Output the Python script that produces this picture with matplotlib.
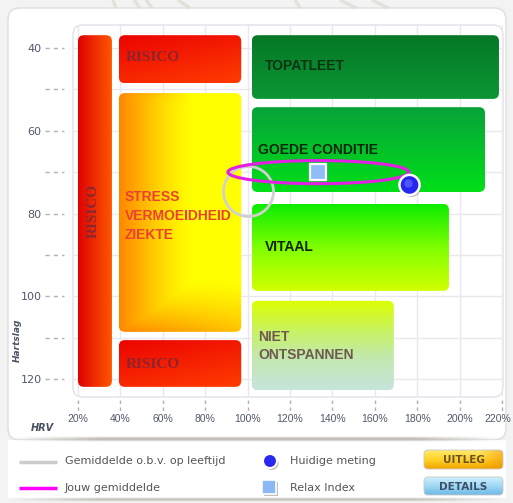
import numpy as np
import matplotlib
matplotlib.use("Agg")
import matplotlib.pyplot as plt
from matplotlib.patches import FancyBboxPatch, Ellipse, Rectangle
from matplotlib.colors import to_rgb
import matplotlib.transforms as mtransforms
import matplotlib.patheffects as pe

# ---------------- data ----------------
zone_labels = ["RISICO", "RISICO", "STRESS\nVERMOEIDHEID\nZIEKTE", "RISICO",
               "TOPATLEET", "GOEDE CONDITIE", "VITAAL", "NIET\nONTSPANNEN"]
zone_x0 = [20.0, 39.3, 39.3, 39.3, 102.0, 102.0, 102.0, 102.0]
zone_x1 = [36.0, 97.0, 97.0, 97.0, 218.6, 212.0, 195.0, 169.0]
zone_y0 = [36.9, 36.9, 50.9, 110.6, 36.9, 54.3, 77.7, 101.1]
zone_y1 = [121.9, 48.5, 108.6, 121.9, 52.3, 74.8, 98.7, 122.7]
label_x = [27.1, 42.6, 42.0, 42.6, 108.2, 105.0, 108.0, 105.0]
label_y = [79.4, 42.3, 80.6, 116.4, 44.4, 64.7, 88.1, 112.0]

age_avg_x, age_avg_y = 100.0, 74.6          # Gemiddelde o.b.v. op leeftijd
your_avg_x, your_avg_y = 133.4, 70.0        # Jouw gemiddelde (ellipse centre)
your_avg_w, your_avg_h = 85.4, 5.6          # spread of jouw gemiddelde
current_x, current_y = 176.4, 73.1          # Huidige meting
relax_x, relax_y = 133.4, 70.0              # Relax Index

x_ticks = [20, 40, 60, 80, 100, 120, 140, 160, 180, 200, 220]
x_ticklabels = [f"{v}%" for v in x_ticks]
y_ticks = [40, 50, 60, 70, 80, 90, 100, 110, 120]
y_ticklabels = ["40", "", "60", "", "80", "", "100", "", "120"]

legend_labels = ["Gemiddelde o.b.v. op leeftijd", "Jouw gemiddelde",
                 "Huidige meting", "Relax Index"]
button_labels = ["UITLEG", "DETAILS"]

# ---------------- helpers ----------------
def vgrad(stops, H=200, W=4):
    pos = [s[0] for s in stops]
    cols = np.array([to_rgb(s[1]) for s in stops])
    t = np.linspace(0, 1, H)
    arr = np.stack([np.interp(t, pos, cols[:, k]) for k in range(3)], axis=-1)
    return np.repeat(arr[:, None, :], W, axis=1)

def hgrad(stops, H=4, W=200):
    pos = [s[0] for s in stops]
    cols = np.array([to_rgb(s[1]) for s in stops])
    t = np.linspace(0, 1, W)
    arr = np.stack([np.interp(t, pos, cols[:, k]) for k in range(3)], axis=-1)
    return np.repeat(arr[None, :, :], H, axis=0)

def diag_grad(c0, c1, H=100, W=100):
    u = np.linspace(0, 1, W)[None, :]
    v = np.linspace(0, 1, H)[:, None]
    t = np.clip(0.35 * u + 0.65 * v, 0, 1)[..., None]
    return np.array(to_rgb(c0)) * (1 - t) + np.array(to_rgb(c1)) * t

def stress_grad(H=220, W=220):
    u = np.linspace(0, 1, W)[None, :]
    v = np.linspace(0, 1, H)[:, None]
    w_left = np.clip(1 - u / 0.6, 0, 1) ** 1.3
    w_bot = np.clip(1 - (1 - v) / 0.22, 0, 1) ** 1.3 * (1 - 0.5 * u)
    w_top = np.clip(1 - v / 0.14, 0, 1) * np.clip(1 - u / 0.6, 0, 1)
    w = np.maximum(np.maximum(w_left, w_bot), w_top)[..., None]
    yel = np.array(to_rgb("#ffff00"))
    ora = np.array(to_rgb("#ff8600"))
    return yel * (1 - w) + ora * w

# ---------------- figure ----------------
W_PX, H_PX = 513, 503
fig = plt.figure(figsize=(W_PX / 100, H_PX / 100), dpi=100, facecolor="#f3f3f3")

bg = fig.add_axes([0, 0, 1, 1], zorder=-10)
bg.set_xlim(0, W_PX)
bg.set_ylim(H_PX, 0)
bg.axis("off")

# faint decoration at the very top
for (xa, xb) in [(113, 116), (134, 140), (146, 152), (178, 190), (295, 300), (340, 356), (372, 388)]:
    bg.plot([xa, xb], [0, 8], color="#dcdcd0", lw=2.5, alpha=0.7, solid_capstyle="butt")

# main white card
bg.add_patch(FancyBboxPatch((8, 8), 498, 432, boxstyle="round,pad=0,rounding_size=12",
                            fc="white", ec="#dedede", lw=1))
# legend panel
bg.add_patch(Rectangle((8, 440), 498, 58, fc="white", ec="none"))
band_w = 498
prof = np.clip(np.sin(np.linspace(0, np.pi, band_w)) * 1.8, 0, 1)
for (yc, hh, a) in [(439.5, 6, 0.95), (499.5, 5, 0.8)]:
    rgba = np.zeros((8, band_w, 4))
    rgba[..., :3] = to_rgb("#bcb8ae")
    vprof = np.sin(np.linspace(0, np.pi, 8))[:, None]
    rgba[..., 3] = a * prof[None, :] * vprof
    bg.imshow(rgba, extent=(8, 506, yc + hh / 2, yc - hh / 2), aspect="auto",
              interpolation="bilinear", zorder=2)
bg.set_xlim(0, W_PX)
bg.set_ylim(H_PX, 0)

# ---------------- main axes ----------------
ax_l, ax_r, ax_t, ax_b = 73, 503, 25, 397
ax = fig.add_axes([ax_l / W_PX, (H_PX - ax_b) / H_PX, (ax_r - ax_l) / W_PX, (ax_b - ax_t) / H_PX], zorder=1)
ax.patch.set_visible(False)
for s in ax.spines.values():
    s.set_visible(False)
XL = (17.64, 220.5)
YL = (124.35, 34.44)

ax.add_patch(FancyBboxPatch((0, 0), 1, 1, transform=ax.transAxes,
                            boxstyle="round,pad=0,rounding_size=0.023",
                            mutation_aspect=(ax_r - ax_l) / (ax_b - ax_t),
                            fc="white", ec="#e0e0ea", lw=1, zorder=0, clip_on=False))

ax.set_xticks(x_ticks)
ax.set_xticklabels(x_ticklabels, family=["Liberation Sans", "DejaVu Sans"])
ax.set_yticks(y_ticks)
ax.set_yticklabels(y_ticklabels)
ax.grid(True, color="#e8e8ee", lw=1, zorder=0.5)
ax.set_axisbelow(True)
ax.tick_params(axis="y", length=0, pad=22.5, labelsize=8, labelcolor="#50586a")
ax.tick_params(axis="x", length=0, pad=12, labelsize=7.5, labelcolor="#50586a")
last = ax.get_xticklabels()[-1]
last.set_transform(last.get_transform() + mtransforms.ScaledTranslation(-3 / 72, 0, fig.dpi_scale_trans))

# dashed ticks
tr_y = mtransforms.blended_transform_factory(ax.transAxes, ax.transData)
tr_x = mtransforms.blended_transform_factory(ax.transData, ax.transAxes)
for v in y_ticks:
    ax.plot([-0.065, -0.022], [v, v], transform=tr_y, ls=(0, (3, 3)), color="#b0b0ba", lw=1, clip_on=False)
for v in x_ticks:
    ax.plot([v, v], [-0.009, -0.045], transform=tr_x, ls=(0, (2.5, 2.5)), color="#b0b0ba", lw=1, clip_on=False)

# zone gradients
zone_imgs = [
    hgrad([(0, "#de0200"), (1, "#ff5800")]),
    diag_grad("#ec0400", "#ff3c00"),
    stress_grad(),
    diag_grad("#ec0400", "#ff3c00"),
    vgrad([(0, "#067826"), (1, "#0c9634")]),
    vgrad([(0, "#07a23a"), (1, "#00e018")]),
    vgrad([(0, "#0cec00"), (0.5, "#80ff00"), (1, "#d2ff00")]),
    vgrad([(0, "#dcff00"), (0.35, "#c8f264"), (0.65, "#c2e8b0"), (1, "#c8e4dc")]),
]
aspect_px = ((ax_r - ax_l) / (XL[1] - XL[0])) / ((ax_b - ax_t) / (YL[0] - YL[1]))
rr = 6 / ((ax_r - ax_l) / (XL[1] - XL[0]))
for i in range(len(zone_labels)):
    x0, x1, y0, y1 = zone_x0[i], zone_x1[i], zone_y0[i], zone_y1[i]
    p = FancyBboxPatch((x0, y0), x1 - x0, y1 - y0,
                       boxstyle=f"round,pad=0,rounding_size={rr}",
                       mutation_aspect=aspect_px, fc="none", ec="none", zorder=2)
    ax.add_patch(p)
    im = ax.imshow(zone_imgs[i], extent=(x0, x1, y1, y0), origin="upper",
                   aspect="auto", interpolation="bilinear", zorder=2)
    im.set_clip_path(p)

sans = ["Liberation Sans", "DejaVu Sans"]
serif = ["Liberation Serif", "DejaVu Serif"]
ris_color = "#7c2638"
styles = [
    dict(family=serif, size=11, weight="bold", color=ris_color, rotation=90, ha="center", va="center"),
    dict(family=serif, size=11, weight="bold", color=ris_color, ha="left", va="center"),
    dict(family=sans, size=10, weight="bold", color="#ee4030", ha="left", va="center", linespacing=1.45),
    dict(family=serif, size=11, weight="bold", color=ris_color, ha="left", va="center"),
    dict(family=sans, size=10, weight="bold", color="#0a3412", ha="left", va="center"),
    dict(family=sans, size=10, weight="bold", color="#0a280a", ha="left", va="center"),
    dict(family=sans, size=10, weight="bold", color="#122408", ha="left", va="center"),
    dict(family=sans, size=10, weight="bold", color="#6e5a52", ha="left", va="center", linespacing=1.4),
]
for i in range(len(zone_labels)):
    t = ax.text(label_x[i], label_y[i], zone_labels[i], zorder=3, **styles[i])
    if styles[i]["color"] == ris_color:
        t.set_alpha(0.85)

# markers
ax.plot([age_avg_x], [age_avg_y], marker="o", ms=36, mfc="none", mec="#d0d0d0", mew=2, zorder=5)
ax.add_patch(Ellipse((your_avg_x, your_avg_y), your_avg_w, your_avg_h, fill=False,
                     ec="#e41ee4", lw=2.2, zorder=6))
shadow = [pe.SimplePatchShadow(offset=(1.2, -1.5), shadow_rgbFace="#777777", alpha=0.45), pe.Normal()]
ax.plot([relax_x], [relax_y], marker="s", ms=11.5, mfc="#90bdf8", mec="white", mew=1.6,
        zorder=7, path_effects=shadow)
ax.plot([current_x], [current_y], marker="o", ms=14.5, mfc="#2626ee", mec="white", mew=1.8,
        zorder=8, path_effects=shadow)
hl = ax.transData + mtransforms.ScaledTranslation(-1.2 / 72, 1.5 / 72, fig.dpi_scale_trans)
ax.plot([current_x], [current_y], marker="o", ms=6, mfc="#6a74ff", mec="none", alpha=0.6,
        zorder=9, transform=hl)

ax.set_xlim(*XL)
ax.set_ylim(*YL)

# axis titles
bg.text(17, 340, "Hartslag", rotation=90, style="italic", weight="bold", fontsize=6.5,
        color="#4a5262", ha="center", va="center", zorder=3)
bg.text(42, 428, "HRV", style="italic", weight="bold", fontsize=7,
        color="#4a5262", ha="center", va="center", zorder=3)

# ---------------- legend ----------------
bg.plot([19, 57], [462, 462], color="#cccccc", lw=2.5, solid_capstyle="butt", zorder=3)
bg.plot([19, 57], [488, 488], color="#ff00ff", lw=2.5, solid_capstyle="butt", zorder=3)
bg.text(65, 461, legend_labels[0], fontsize=8, color="#555555", va="center", zorder=3)
bg.text(65, 488, legend_labels[1], fontsize=8, color="#555555", va="center", zorder=3)
bg.plot([270], [461], marker="o", ms=10, mfc="#2828ee", mec="white", mew=1.4, zorder=3,
        path_effects=shadow)
bg.plot([269], [487], marker="s", ms=10, mfc="#8ab8f5", mec="white", mew=1.2, zorder=3,
        path_effects=shadow)
bg.text(290, 461, legend_labels[2], fontsize=8, color="#555555", va="center", zorder=3)
bg.text(290, 488, legend_labels[3], fontsize=8, color="#555555", va="center", zorder=3)

u = np.linspace(0, 1, 120)[None, :, None]
base = vgrad([(0, "#ffea70"), (0.5, "#ffd226"), (1, "#f0a400")], H=60, W=120)
mix = 0.5 * np.clip((u - 0.7) / 0.3, 0, 1)
btn_imgs = [
    base * (1 - mix) + np.array(to_rgb("#f08a00")) * mix,
    vgrad([(0, "#d0f0fe"), (0.5, "#a0d8f4"), (1, "#6cb8e6")]),
]
btn_boxes = [(424, 450, 79, 19), (424, 477, 79, 18)]
btn_text_colors = ["#6a5030", "#3a5068"]
for i, (bx, by, bw, bh) in enumerate(btn_boxes):
    p = FancyBboxPatch((bx, by), bw, bh, boxstyle="round,pad=0,rounding_size=4",
                       fc="none", ec="#c8c8c8", lw=0.6, zorder=4)
    bg.add_patch(p)
    im = bg.imshow(btn_imgs[i], extent=(bx, bx + bw, by + bh, by), aspect="auto",
                   interpolation="bilinear", zorder=3)
    im.set_clip_path(p)
    bg.text(bx + bw / 2, by + bh / 2 + 0.5, button_labels[i], fontsize=7.5, weight="bold",
            color=btn_text_colors[i], ha="center", va="center", zorder=5)

bg.set_xlim(0, W_PX)
bg.set_ylim(H_PX, 0)

fig.savefig("out.png", dpi=100, facecolor=fig.get_facecolor())
